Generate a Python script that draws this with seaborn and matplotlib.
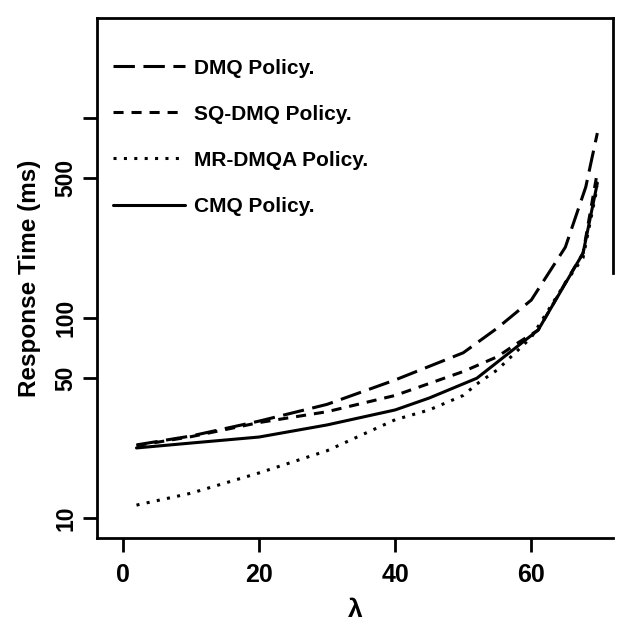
import matplotlib
matplotlib.use("Agg")
import matplotlib.pyplot as plt
import seaborn as sns
import pandas as pd
import numpy as np

# ---- data ----
dmq_lam = [2, 10, 20, 30, 40, 50, 55, 60, 65, 68, 69.7]
dmq_rt = [23.2, 25.7, 30.5, 37, 49, 67, 89, 123, 226, 452, 841]

sq_lam = [2, 10, 20, 30, 40, 50, 55, 58, 61, 65, 67.6, 69.7]
sq_rt = [23.0, 25.5, 30, 34, 41, 54, 64, 75, 87, 150, 211, 537]

mr_lam = [2, 10, 20, 30, 40, 45, 50, 52, 55, 60, 65, 67.6, 69.7]
mr_rt = [11.6, 13.3, 16.8, 21.7, 31, 34.7, 41, 46.8, 55, 80, 150, 200, 455]

cmq_lam = [2, 10, 20, 30, 40, 45, 52, 61, 67.6, 69.7]
cmq_rt = [22.4, 23.7, 25.4, 29.2, 34.7, 39.8, 50, 87, 211, 473]

policies = ["DMQ Policy.", "SQ-DMQ Policy.", "MR-DMQA Policy.", "CMQ Policy."]
x_ticks = [0, 20, 40, 60]
y_ticks = [10, 50, 100, 500, 1000]
y_ticklabels = ["10", "50", "100", "500", ""]

frames = []
for name, lam, rt in zip(policies, [dmq_lam, sq_lam, mr_lam, cmq_lam],
                         [dmq_rt, sq_rt, mr_rt, cmq_rt]):
    frames.append(pd.DataFrame({"lam": lam, "rt": rt, "policy": name}))
df = pd.concat(frames, ignore_index=True)

sns.set_style("ticks")
plt.rcParams["font.family"] = ["Liberation Sans", "DejaVu Sans"]
plt.rcParams["font.weight"] = "bold"
plt.rcParams["text.color"] = "black"
plt.rcParams["axes.labelcolor"] = "black"
plt.rcParams["xtick.color"] = "black"
plt.rcParams["ytick.color"] = "black"

fig = plt.figure(figsize=(6.17, 6.22), dpi=100)
ax = fig.add_axes([97 / 617, 1 - 538 / 622, (613 - 97) / 617, (538 - 18) / 622])

LW = 2.2
dashes = {
    "DMQ Policy.": (7, 2.8),
    "SQ-DMQ Policy.": (3.3, 2.6),
    "MR-DMQA Policy.": (1, 2.4),
    "CMQ Policy.": "",
}
sns.lineplot(data=df, x="lam", y="rt", hue="policy", style="policy",
             hue_order=policies, style_order=policies,
             palette=["black"] * 4, dashes=dashes, linewidth=LW,
             estimator=None, sort=False, ax=ax)

ax.set_yscale("log")
ax.set_xlim(-3.8, 72)
ax.set_ylim(10 ** 0.9, 10 ** 3.5)
ax.set_yticks(y_ticks)
ax.set_yticklabels(y_ticklabels, rotation=90, va="center")
ax.yaxis.set_minor_locator(matplotlib.ticker.NullLocator())
ax.set_xticks(x_ticks)
ax.set_xticklabels([str(t) for t in x_ticks])

ax.tick_params(axis="both", direction="out", length=10, width=2,
               colors="black", labelcolor="black")
ax.tick_params(axis="x", pad=8, labelsize=18)
ax.tick_params(axis="y", pad=4, labelsize=16.5)
for lab in ax.get_xticklabels() + ax.get_yticklabels():
    lab.set_fontweight("bold")

for s in ax.spines.values():
    s.set_linewidth(2)
    s.set_color("black")
ax.spines["right"].set_bounds(168, 10 ** 3.5)

ax.set_xlabel("λ", fontsize=19, fontweight="bold", labelpad=8, color="black")
ax.set_ylabel("Response Time (ms)", fontsize=17.5, fontweight="bold",
              labelpad=10, color="black")

leg = ax.legend(loc="upper left", bbox_to_anchor=(0.031, 0.922), frameon=False,
                fontsize=15, handlelength=3.45, handletextpad=0.45,
                labelspacing=1.3, borderpad=0, borderaxespad=0)
for t in leg.get_texts():
    t.set_fontweight("bold")
    t.set_color("black")
for h in leg.get_lines():
    h.set_linewidth(LW)

fig.savefig("out.png", dpi=100)
